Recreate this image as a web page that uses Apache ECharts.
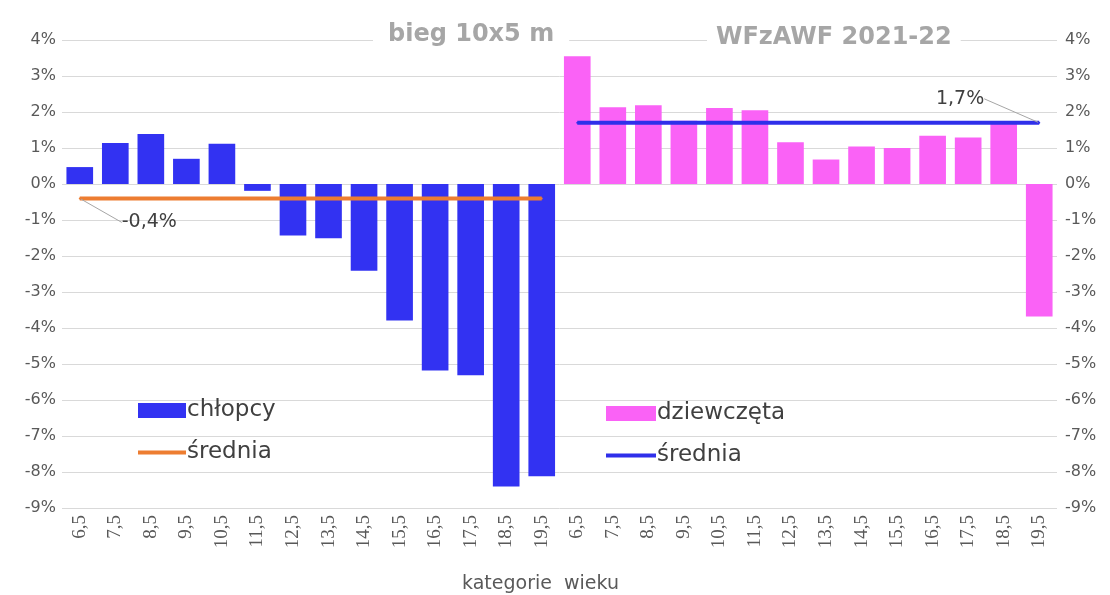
<!DOCTYPE html>
<html>
<head>
<meta charset="utf-8">
<script src="https://cdn.jsdelivr.net/npm/echarts@6/dist/echarts.min.js"></script>
<style>
  html, body { margin: 0; padding: 0; background: #ffffff; }
  #chart { width: 1110px; height: 595px; }
</style>
</head>
<body>
<div id="chart"></div>
<script>
// Age categories (same set for boys and girls)
const ages = ['6,5', '7,5', '8,5', '9,5', '10,5', '11,5', '12,5', '13,5', '14,5', '15,5', '16,5', '17,5', '18,5', '19,5'];

// Change in the 10x5 m shuttle run result, per age category [%]
const boys  = [0.47, 1.14, 1.39, 0.70, 1.12, -0.19, -1.43, -1.51, -2.41, -3.79, -5.18, -5.31, -8.40, -8.12];
const girls = [3.55, 2.13, 2.19, 1.76, 2.11, 2.05, 1.16, 0.68, 1.04, 1.00, 1.34, 1.29, 1.73, -3.68];

// Group means [%]
const boysMean = -0.4;
const girlsMean = 1.7;

// Value axis range [%]
const yMin = -9;
const yMax = 4;
const yStep = 1;

const titles = ['bieg 10x5 m', 'WFzAWF 2021-22'];
const xName = 'kategorie  wieku';

const n = ages.length;
const categories = ages.concat(ages);
const blanks = new Array(n).fill('-');

const pctFmt = v => String(v).replace('.', ',') + '%';

const boysBars = boys.concat(blanks);
const girlsBars = blanks.concat(girls);

const boysMeanLine = ages.map((a, i) => i === 0
  ? { value: boysMean, label: { show: true, position: 'right', formatter: () => pctFmt(boysMean) } }
  : boysMean).concat(blanks);
const girlsMeanLine = blanks.concat(ages.map((a, i) => i === n - 1
  ? { value: girlsMean, label: { show: true, position: 'left', formatter: () => pctFmt(girlsMean) } }
  : girlsMean));

const font = '"DejaVu Sans", "Open Sans", sans-serif';
const axisLabelStyle = { color: '#595959', fontSize: 16, fontFamily: font };

const chart = echarts.init(document.getElementById('chart'), null, { renderer: 'canvas' });

chart.setOption({
  backgroundColor: '#ffffff',
  animation: false,
  title: [
    {
      text: titles[0], left: 373, top: 19,
      backgroundColor: '#ffffff', padding: [4, 15],
      textStyle: { color: '#a6a6a6', fontSize: 24, fontWeight: 'bold', fontFamily: font, lineHeight: 24 }
    },
    {
      text: titles[1], left: 707, top: 22,
      backgroundColor: '#ffffff', padding: [4, 9],
      textStyle: { color: '#a6a6a6', fontSize: 24, fontWeight: 'bold', fontFamily: font, lineHeight: 24 }
    }
  ],
  legend: [
    {
      orient: 'vertical', left: 136, top: 399, padding: 0,
      itemWidth: 48, itemHeight: 15, itemGap: 19,
      data: [
        { name: 'chłopcy', icon: 'rect' },
        { name: 'średnia', itemStyle: { opacity: 0 }, lineStyle: { width: 4 } }
      ],
      textStyle: { color: '#404040', fontSize: 23, fontFamily: font, padding: [0, 0, 0, -4] }
    },
    {
      orient: 'vertical', left: 604, top: 402, padding: 0,
      itemWidth: 50, itemHeight: 15, itemGap: 19,
      data: [
        { name: 'dziewczęta', icon: 'rect' },
        { name: 'średnia ', itemStyle: { opacity: 0 }, lineStyle: { width: 4 } }
      ],
      textStyle: { color: '#404040', fontSize: 23, fontFamily: font, padding: [0, 0, 0, -4] }
    }
  ],
  grid: { left: 62, right: 53, top: 40, bottom: 87, containLabel: false, outerBoundsMode: 'none' },
  xAxis: {
    type: 'category',
    data: categories,
    name: xName,
    nameLocation: 'middle',
    nameGap: 67,
    nameTextStyle: { color: '#595959', fontSize: 19, fontFamily: font, padding: [0, 38, 0, 0] },
    axisLine: { show: false },
    axisTick: { show: false },
    axisLabel: {
      interval: 0, rotate: 90, margin: 7,
      color: '#595959', fontSize: 19, fontFamily: 'serif'
    },
    splitLine: { show: false }
  },
  yAxis: [
    {
      type: 'value', min: yMin, max: yMax, interval: yStep,
      axisLabel: Object.assign({ formatter: v => v + '%', margin: 6 }, axisLabelStyle),
      splitLine: { lineStyle: { color: '#d9d9d9', width: 1 } },
      axisLine: { show: false }, axisTick: { show: false }
    },
    {
      type: 'value', min: yMin, max: yMax, interval: yStep, position: 'right',
      axisLabel: Object.assign({ formatter: v => v + '%', margin: 8 }, axisLabelStyle),
      splitLine: { show: false },
      axisLine: { show: false }, axisTick: { show: false }
    }
  ],
  series: [
    {
      name: 'chłopcy', type: 'bar', data: boysBars,
      barGap: '-100%', barCategoryGap: '25%',
      itemStyle: { color: '#3232F2' }, z: 2
    },
    {
      name: 'dziewczęta', type: 'bar', data: girlsBars,
      barGap: '-100%', barCategoryGap: '25%',
      itemStyle: { color: '#FA62F6' }, z: 2
    },
    {
      name: 'średnia', type: 'line', data: boysMeanLine,
      symbol: 'circle', symbolSize: 2, showSymbol: true, connectNulls: false,
      lineStyle: { color: '#ED7D31', width: 4 },
      itemStyle: { color: '#ED7D31' },
      label: { color: '#404040', fontSize: 19, fontFamily: font },
      labelLayout: { dx: 36, dy: 24 },
      labelLine: { show: true, lineStyle: { color: '#a6a6a6', width: 1 } },
      emphasis: { disabled: true },
      z: 4
    },
    {
      name: 'średnia ', type: 'line', data: girlsMeanLine,
      symbol: 'circle', symbolSize: 2, showSymbol: true, connectNulls: false,
      lineStyle: { color: '#2F2FEA', width: 4 },
      itemStyle: { color: '#2F2FEA' },
      label: { color: '#404040', fontSize: 19, fontFamily: font },
      labelLayout: { dx: -49, dy: -24 },
      labelLine: { show: true, lineStyle: { color: '#a6a6a6', width: 1 } },
      emphasis: { disabled: true },
      z: 4
    }
  ]
});
</script>
</body>
</html>
